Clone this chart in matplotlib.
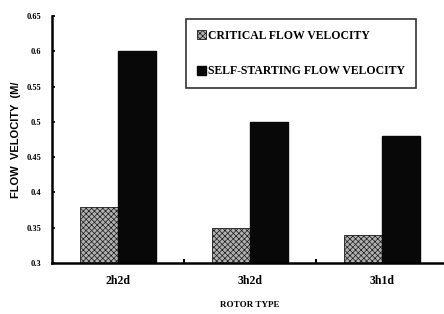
import matplotlib.pyplot as plt
import numpy as np

# data
rotor_types = ['2h2d', '3h2d', '3h1d']
critical = [0.38, 0.35, 0.34]
self_starting = [0.60, 0.50, 0.48]
yticks = [0.3, 0.35, 0.4, 0.45, 0.5, 0.55, 0.6, 0.65]
ytick_labels = ['0.3', '0.35', '0.4', '0.45', '0.5', '0.55', '0.6', '0.65']

serif = 'Liberation Serif'
sans = 'Liberation Sans'

plt.rcParams['hatch.color'] = '#4a4a4a'
plt.rcParams['hatch.linewidth'] = 0.5

fig = plt.figure(figsize=(4.44, 3.14), dpi=100)
ax = fig.add_axes([52 / 444, 1 - 263 / 314, 396 / 444, 247 / 314])

x = np.arange(len(rotor_types))
w = 0.29
ax.bar(x - w / 2, critical, w, color='#b0b0b0', edgecolor='#1a1a1a',
       hatch='xxxxxx', linewidth=0.6, label='CRITICAL FLOW VELOCITY')
ax.bar(x + w / 2, self_starting, w, color='#080808', edgecolor='#080808',
       label='SELF-STARTING FLOW VELOCITY')

ax.set_xlim(-0.5, 2.5)
ax.set_ylim(0.3, 0.65)
ax.set_yticks(yticks)
ax.set_yticklabels(ytick_labels, fontfamily=serif, fontweight='bold', fontsize=6)
ax.set_xticks([0.5, 1.5])
ax.set_xticklabels(['', ''])
ax.tick_params(axis='x', direction='in', length=3, width=1.5)
ax.tick_params(axis='y', direction='in', length=2, width=1.2, pad=8)
for i, name in enumerate(rotor_types):
    ax.text(i, 0.3 - 0.025, name, ha='center', va='center', fontfamily=serif,
            fontweight='bold', fontsize=8.5, clip_on=False)

for s in ['top', 'right']:
    ax.spines[s].set_visible(False)
for s in ['left', 'bottom']:
    ax.spines[s].set_linewidth(1.8)

fig.text(250 / 444, 1 - 305 / 314, 'ROTOR TYPE', ha='center', va='center',
         fontfamily=serif, fontweight='bold', fontsize=6.5)
fig.text(16 / 444, 1 - 140 / 314, 'FLOW  VELOCITY  (M/', ha='center', va='center',
         rotation=90, fontfamily=sans, fontweight='bold', fontsize=8)

leg = ax.legend(loc='upper left', bbox_to_anchor=((186 - 52) / 396, (263 - 19) / 247),
                prop={'family': serif, 'weight': 'bold', 'size': 8.5},
                frameon=True, fancybox=False, edgecolor='black',
                handlelength=0.8, handleheight=0.8, handletextpad=0.2,
                labelspacing=2.0, borderpad=0.9, borderaxespad=0)
leg.get_frame().set_linewidth(1.2)

fig.savefig('out.png', dpi=100)
